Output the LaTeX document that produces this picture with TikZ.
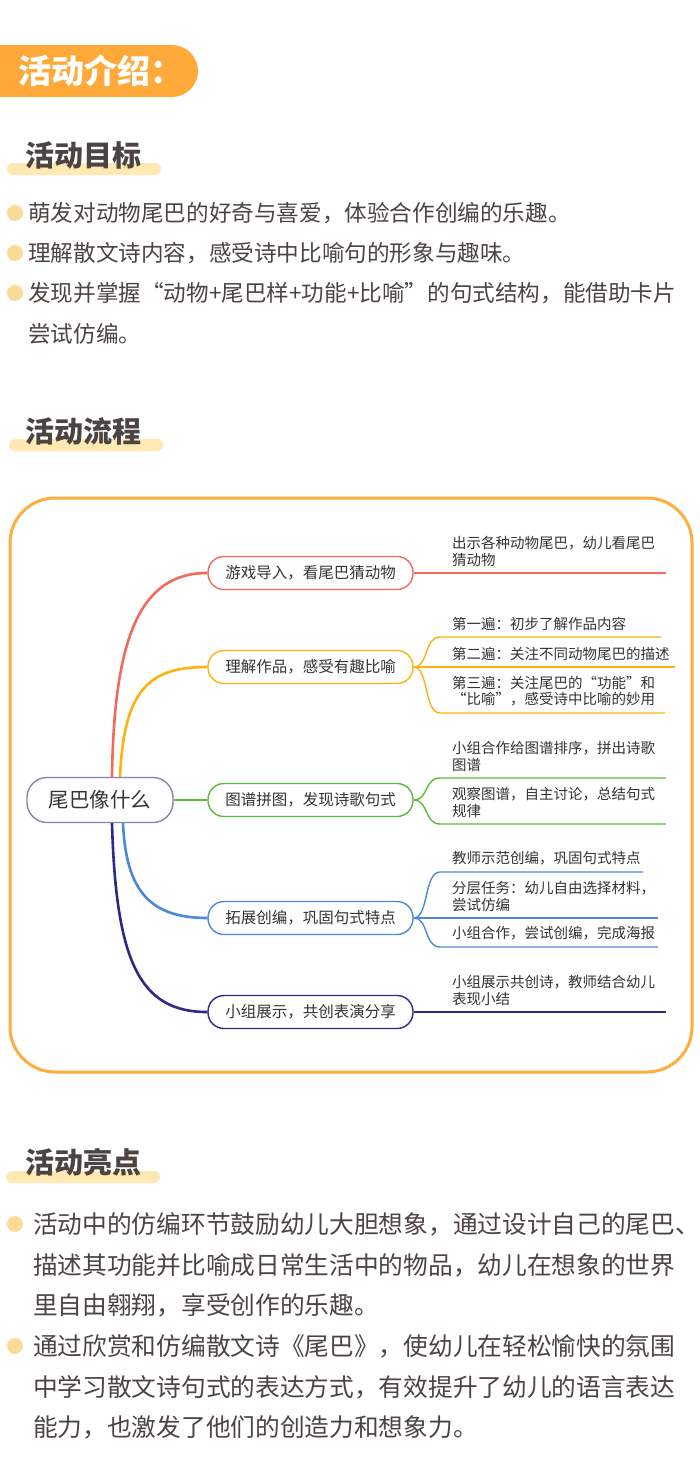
\documentclass[tikz,border=0pt]{standalone}
\usepackage{fontspec}
\setmainfont{Noto Sans CJK SC}

\definecolor{banner}{HTML}{FFA93B}
\definecolor{framec}{HTML}{FFAC40}
\definecolor{barc}{HTML}{FFE8B2}
\definecolor{dotc}{HTML}{FCDB98}
\definecolor{inkc}{HTML}{4B4441}
\definecolor{mapink}{HTML}{333333}
\definecolor{redc}{HTML}{F26A5C}
\definecolor{orgc}{HTML}{FFB20F}
\definecolor{grnc}{HTML}{5CBA40}
\definecolor{bluc}{HTML}{4A89DA}
\definecolor{navc}{HTML}{2E2889}
\definecolor{rootc}{HTML}{8787A3}

\tikzset{
  heading/.style={anchor=west,inner sep=0,text=inkc,
    font=\fontsize{29}{32}\selectfont\bfseries},
  para/.style={anchor=west,inner sep=0,align=left,text=inkc},
  branch/.style={draw,line width=1.4pt,rounded corners=16pt,fill=white,
    minimum width=205pt,minimum height=33pt,inner sep=0,text=mapink,
    font=\fontsize{15.5}{18}\selectfont},
  leaf/.style={anchor=west,inner sep=0,align=left,text=mapink,
    font=\fontsize{14.5}{16.5}\selectfont},
  limb/.style={line width=2.6pt},
  twig/.style={line width=1.4pt}
}

\begin{document}
\begin{tikzpicture}[x=1pt,y=-1pt]
\fill[white] (0,0) rectangle (700,1475);
\useasboundingbox (0,0) rectangle (700,1475);

% banner
\fill[banner,rounded corners=26pt] (-40,45) rectangle (198,97);
\node[anchor=west,inner sep=0,text=white,
  font=\fontsize{33}{36}\selectfont\bfseries] (intro) at (18,71) {活动介绍：};

% goals
\fill[barc,rounded corners=6pt] (7,163) rectangle (161,175);
\node[heading] (goals) at (25,155) {活动目标};
\fill[dotc] (15,213) circle (8);
\fill[dotc] (15,253) circle (8);
\fill[dotc] (15,293) circle (8);
\node[para,font=\fontsize{22.6}{41}\selectfont] (goal1) at (28,213)
  {萌发对动物尾巴的好奇与喜爱，体验合作创编的乐趣。};
\node[para,font=\fontsize{22.6}{41}\selectfont] (goal2) at (28,253)
  {理解散文诗内容，感受诗中比喻句的形象与趣味。};
\node[para,font=\fontsize{22.6}{41}\selectfont] (goal3) at (28,313.5)
  {发现并掌握“动物+尾巴样+功能+比喻”的句式结构，能借助卡片\\尝试仿编。};

% process
\fill[barc,rounded corners=6pt] (9,439) rectangle (163,451);
\node[heading] (steps) at (25,431) {活动流程};
\draw[framec,line width=3pt,rounded corners=45pt] (10,498) rectangle (692,1072);

\node[draw=rootc,line width=1.4pt,rounded corners=20pt,fill=white,
  minimum width=146pt,minimum height=45pt,inner sep=0,text=mapink,
  font=\fontsize{20.5}{24}\selectfont] (tail) at (100,800) {尾巴像什么};

\node[branch,draw=redc] (game) at (310.5,573) {游戏导入，看尾巴猜动物};
\node[branch,draw=orgc] (read) at (310.5,667) {理解作品，感受有趣比喻};
\node[branch,draw=grnc] (chart) at (310.5,800) {图谱拼图，发现诗歌句式};
\node[branch,draw=bluc] (create) at (310.5,918) {拓展创编，巩固句式特点};
\node[branch,draw=navc] (show) at (310.5,1012) {小组展示，共创表演分享};

\draw[limb,redc] ([xshift=12pt]tail.north)
  .. controls +(2,-138) and +(-68,0) .. (game.west);
\draw[limb,orgc] ([xshift=20pt]tail.north)
  .. controls +(4,-88) and +(-58,0) .. (read.west);
\draw[limb,grnc] (tail.east) -- (chart.west);
\draw[limb,bluc] ([xshift=23pt]tail.south)
  .. controls +(3,67) and +(-58,0) .. (create.west);
\draw[limb,navc] ([xshift=12pt]tail.south)
  .. controls +(4,138) and +(-68,0) .. (show.west);

% leaves
\node[leaf] (hint) at (452,551.5) {出示各种动物尾巴，幼儿看尾巴\\猜动物};
\coordinate (hintend) at (666,573);
\draw[twig,redc] (game.east) -- (hintend);

\node[leaf] (readA) at (452,623.5) {第一遍：初步了解作品内容};
\node[leaf] (readB) at (452,653.5) {第二遍：关注不同动物尾巴的描述};
\node[leaf] (readC) at (452,691.25)
  {第三遍：关注尾巴的“功能”和\\“比喻”，感受诗中比喻的妙用};
\coordinate (readAend) at (661,637);
\coordinate (readBend) at (675,667);
\coordinate (readCend) at (665,713);
\draw[twig,orgc] (read.east) .. controls +(15,0) and +(-16,0) .. (440,637) -- (readAend);
\draw[twig,orgc] (read.east) -- (readBend);
\draw[twig,orgc] (read.east) .. controls +(15,0) and +(-16,0) .. (440,713) -- (readCend);

\node[leaf] (chartA) at (452,756.25) {小组合作给图谱排序，拼出诗歌\\图谱};
\node[leaf] (chartB) at (452,802.25) {观察图谱，自主讨论，总结句式\\规律};
\coordinate (chartAend) at (666,778);
\coordinate (chartBend) at (666,824);
\draw[twig,grnc] (chart.east) .. controls +(15,0) and +(-16,0) .. (440,778) -- (chartAend);
\draw[twig,grnc] (chart.east) .. controls +(15,0) and +(-16,0) .. (440,824) -- (chartBend);

\node[leaf] (createA) at (452,858.5) {教师示范创编，巩固句式特点};
\node[leaf] (createB) at (452,896.25) {分层任务：幼儿自由选择材料，\\尝试仿编};
\node[leaf] (createC) at (452,933.5) {小组合作，尝试创编，完成海报};
\coordinate (createAend) at (643,872);
\coordinate (createBend) at (658,918);
\coordinate (createCend) at (658,947);
\draw[twig,bluc] (create.east) .. controls +(15,0) and +(-16,0) .. (440,872) -- (createAend);
\draw[twig,bluc] (create.east) -- (createBend);
\draw[twig,bluc] (create.east) .. controls +(15,0) and +(-16,0) .. (440,947) -- (createCend);

\node[leaf] (showA) at (452,990.25) {小组展示共创诗，教师结合幼儿\\表现小结};
\coordinate (showend) at (666,1012);
\draw[twig,navc] (show.east) -- (showend);

% highlights
\fill[barc,rounded corners=6pt] (6,1171) rectangle (160,1183);
\node[heading] (merits) at (25,1162) {活动亮点};
\fill[dotc] (15,1224) circle (8);
\fill[dotc] (15,1346) circle (8);
\node[para,font=\fontsize{24.7}{40.5}\selectfont] (merit1) at (33,1265)
  {活动中的仿编环节鼓励幼儿大胆想象，通过设计自己的尾巴、\\描述其功能并比喻成日常生活中的物品，幼儿在想象的世界\\里自由翱翔，享受创作的乐趣。};
\node[para,font=\fontsize{24.7}{40.5}\selectfont] (merit2) at (33,1387)
  {通过欣赏和仿编散文诗《尾巴》，使幼儿在轻松愉快的氛围\\中学习散文诗句式的表达方式，有效提升了幼儿的语言表达\\能力，也激发了他们的创造力和想象力。};
\end{tikzpicture}
\end{document}
